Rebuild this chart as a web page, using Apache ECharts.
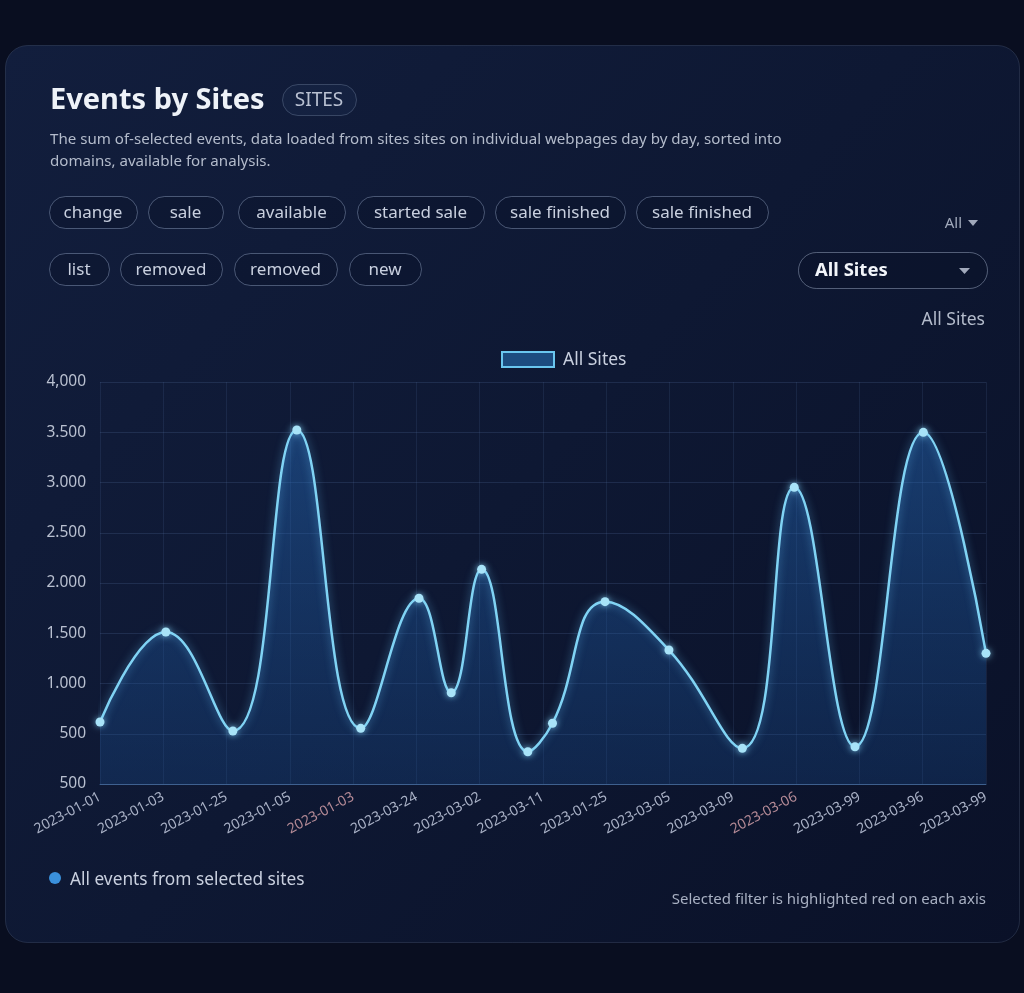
<!DOCTYPE html>
<html>
<head>
<meta charset="utf-8">
<script src="https://cdn.jsdelivr.net/npm/echarts@6/dist/echarts.min.js"></script>
<style>
html,body{margin:0;padding:0;background:#090e20;}
#c{width:1024px;height:993px;}
</style>
</head>
<body>
<div id="c"></div>
<script>
// ---- data ----
const xLabels = ['2023-01-01','2023-01-03','2023-01-25','2023-01-05','2023-01-03','2023-03-24','2023-03-02','2023-03-11','2023-01-25','2023-03-05','2023-03-09','2023-03-06','2023-03-99','2023-03-96','2023-03-99'];
const highlightedLabels = [4, 11];
const yTickLabels = ['500','500','1.000','1.500','2.000','2.500','3.000','3.500','4,000'];
const pointX = [0, 1.04, 2.1, 3.11, 4.12, 5.04, 5.55, 6.03, 6.76, 7.15, 7.98, 8.99, 10.15, 10.97, 11.93, 13.01, 14];
const pointY = [617, 1512, 527, 3522, 554, 1848, 908, 2136, 321, 604, 1814, 1333, 355, 2952, 371, 3499, 1300];
const chips1 = ['change','sale','available','started sale','sale finished','sale finished'];
const chips2 = ['list','removed','removed','new'];
const seriesName = 'All Sites';

const FONT = '"Noto Sans", "Open Sans", sans-serif';
const chart = echarts.init(document.getElementById('c'), null, {renderer:'canvas'});

const chipPos1 = [[49,88],[148,75],[238,107],[357,127],[495,130],[636,132]];
const chipPos2 = [[49,60],[120,102],[234,103],[349,72]];
function chipGraphics(list, pos, y){
  const out = [];
  list.forEach((t,i)=>{
    out.push({type:'rect', left:pos[i][0], top:y, shape:{width:pos[i][1], height:32, r:16},
      style:{fill:'rgba(10,18,40,0.35)', stroke:'rgba(170,190,220,0.38)', lineWidth:1}, z:1});
    out.push({type:'text', x:pos[i][0]+pos[i][1]/2, y:y+17, style:{text:t, fill:'#c9d0df', font:'17px '+FONT, textAlign:'center', textVerticalAlign:'middle'}, z:2});
  });
  return out;
}

const data = pointX.map((x,i)=>[x, pointY[i]]);

const option = {
  backgroundColor:'#090e20',
  animation:false,
  grid:{left:100, right:38, top:382, bottom:209, containLabel:false},
  xAxis:{
    type:'value', min:0, max:14, interval:1,
    axisLine:{show:true, lineStyle:{color:'rgba(90,140,200,0.55)', width:1}},
    axisTick:{show:false},
    splitLine:{show:true, lineStyle:{color:'rgba(90,120,170,0.16)', width:1}},
    axisLabel:{
      rotate:28, margin:12, fontFamily:FONT, fontSize:14, color:'#a9b1c6',
      formatter:(v)=>{const i=Math.round(v); const s=xLabels[i]||''; return highlightedLabels.indexOf(i)>=0 ? '{r|'+s+'}' : s;},
      rich:{r:{color:'#b48a96', fontFamily:FONT, fontSize:14}}
    }
  },
  yAxis:{
    type:'value', min:0, max:4000, interval:500,
    axisLine:{show:false}, axisTick:{show:false},
    splitLine:{show:true, lineStyle:{color:'rgba(90,120,170,0.22)', width:1}},
    axisLabel:{margin:14, fontFamily:FONT, fontSize:15.5, color:'#b9c0d0',
      formatter:(v)=>yTickLabels[Math.round(v/500)]}
  },
  series:[{
    name:seriesName, type:'line', data:data, smooth:0.45,
    symbol:'circle', symbolSize:9, showSymbol:true,
    lineStyle:{color:'#80d3f4', width:2.5, shadowColor:'rgba(110,200,255,0.6)', shadowBlur:8},
    itemStyle:{color:'#a8e3f8', borderWidth:0, shadowColor:'rgba(140,220,255,0.7)', shadowBlur:6},
    areaStyle:{color:new echarts.graphic.LinearGradient(0,0,0,1,[
      {offset:0, color:'rgba(40,115,200,0.6)'},
      {offset:1, color:'rgba(25,80,150,0.4)'}
    ])},
    z:3
  }],
  graphic:[
    {type:'rect', left:5, top:45, shape:{width:1014, height:897, r:22}, z:-10,
      style:{fill:new echarts.graphic.LinearGradient(0,0,1,1,[
        {offset:0, color:'#121e3d'},{offset:0.5, color:'#0e1833'},{offset:1, color:'#0a1128'}]),
        stroke:'rgba(140,160,200,0.18)', lineWidth:1}},
    {type:'text', x:50, y:101, style:{text:'Events by Sites', fill:'#eef2f8', font:'bold 29px '+FONT, textVerticalAlign:'middle'}},
    {type:'rect', left:282, top:84, shape:{width:74, height:31, r:15.5},
      style:{fill:'rgba(30,45,80,0.35)', stroke:'rgba(170,190,220,0.25)', lineWidth:1}},
    {type:'text', x:319, y:101, style:{text:'SITES', fill:'#b9c1d2', font:'19px '+FONT, textAlign:'center', textVerticalAlign:'middle'}},
    {type:'text', x:50, y:140, style:{text:'The sum of-selected events, data loaded from sites sites on individual webpages day by day, sorted into', fill:'#b3bbcb', font:'15.1px '+FONT, textVerticalAlign:'middle'}},
    {type:'text', x:50, y:162, style:{text:'domains, available for analysis.', fill:'#b3bbcb', font:'15.1px '+FONT, textVerticalAlign:'middle'}},
    ...chipGraphics(chips1, chipPos1, 196),
    ...chipGraphics(chips2, chipPos2, 253),
    {type:'text', x:962, y:224, style:{text:'All', fill:'#a1a9bb', font:'15px '+FONT, textAlign:'right', textVerticalAlign:'middle'}},
    {type:'polygon', shape:{points:[[968,220],[978,220],[973,226]]}, style:{fill:'#a1a9bb'}},
    {type:'rect', left:798, top:252, shape:{width:189, height:36, r:18},
      style:{fill:'rgba(10,18,40,0.4)', stroke:'rgba(190,205,230,0.4)', lineWidth:1}},
    {type:'text', x:815, y:271, style:{text:'All Sites', fill:'#f2f5fa', font:'bold 18.5px '+FONT, textVerticalAlign:'middle'}},
    {type:'polygon', shape:{points:[[959,268],[970,268],[964.5,274]]}, style:{fill:'#a1a9bb'}},
    {type:'text', x:985, y:320, style:{text:'All Sites', fill:'#b3bbcb', font:'17.5px '+FONT, textAlign:'right', textVerticalAlign:'middle'}},
    {type:'rect', left:501, top:351, shape:{width:52, height:15}, style:{fill:'#1d4c80', stroke:'#6ac6ef', lineWidth:2}},
    {type:'text', x:563, y:360, style:{text:seriesName, fill:'#c9d0df', font:'17.5px '+FONT, textVerticalAlign:'middle'}},
    {type:'circle', shape:{cx:55, cy:878, r:6}, style:{fill:'#3a90dc'}},
    {type:'text', x:70, y:880, style:{text:'All events from selected sites', fill:'#c9d0df', font:'17.3px '+FONT, textVerticalAlign:'middle'}},
    {type:'text', x:986, y:900, style:{text:'Selected filter is highlighted red on each axis', fill:'#a8b0c2', font:'15px '+FONT, textAlign:'right', textVerticalAlign:'middle'}}
  ]
};
chart.setOption(option);
</script>
</body>
</html>
